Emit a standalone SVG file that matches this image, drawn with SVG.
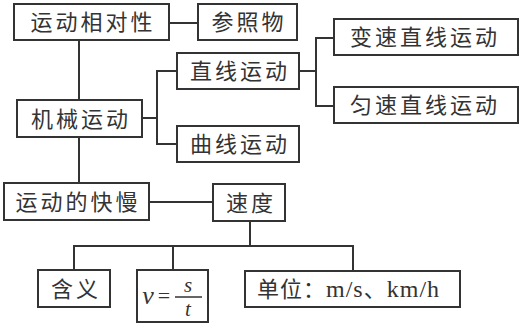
<svg xmlns="http://www.w3.org/2000/svg" width="522" height="327" viewBox="0 0 522 327">
<style>
rect{fill:#fff;stroke:#333;stroke-width:2}
.c path{fill:none;stroke:#333;stroke-width:2}
text{font-family:"Noto Sans CJK SC","Noto Sans",sans-serif;font-size:22px;fill:#333;letter-spacing:3px;text-anchor:middle}
.m{font-family:"Liberation Serif","Noto Sans CJK SC",serif;letter-spacing:0;font-style:italic}
.l{font-family:"Liberation Serif",serif;font-size:24px}
</style>
<rect x="0" y="0" width="522" height="327" style="stroke:none"/>
<g class="c">
<path d="M169 23H198"/>
<path d="M79 40V100"/>
<path d="M142 118H157M177 71H157V144H177"/>
<path d="M299 71H316M334 38H316V106H334"/>
<path d="M79 137V183"/>
<path d="M149 202H213"/>
<path d="M250 221V246M74 270V246H353V271M173 246V270"/>
</g>
<g id="n1"><rect x="14" y="4" width="155" height="36"/><text x="93" y="30">运动相对性</text></g>
<g id="n2"><rect x="198" y="4" width="99" height="36"/><text x="249" y="30">参照物</text></g>
<g id="n3"><rect x="17" y="100" width="125" height="37"/><text x="81" y="127">机械运动</text></g>
<g id="n4"><rect x="177" y="53" width="122" height="36"/><text x="240" y="79">直线运动</text></g>
<g id="n5"><rect x="177" y="126" width="122" height="36"/><text x="240" y="152">曲线运动</text></g>
<g id="n6"><rect x="334" y="19" width="184" height="36"/><text x="425" y="45">变速直线运动</text></g>
<g id="n7"><rect x="334" y="87" width="184" height="36"/><text x="425" y="113">匀速直线运动</text></g>
<g id="n8"><rect x="4" y="183" width="145" height="37"/><text x="78" y="210">运动的快慢</text></g>
<g id="n9"><rect x="213" y="184" width="72" height="37"/><text x="251" y="211">速度</text></g>
<g id="n10"><rect x="38" y="270" width="72" height="37"/><text x="76" y="297">含义</text></g>
<g id="n11"><rect x="137" y="270" width="71" height="52"/>
<text class="m" x="148" y="304" style="font-size:26px">v</text>
<text class="m" x="164" y="303" style="font-style:normal;font-size:22px">=</text>
<path d="M175 297H202" stroke="#333" stroke-width="1.5"/>
<text class="m" x="188" y="292" style="font-size:21px">s</text>
<text class="m" x="188" y="316" style="font-size:21px">t</text>
</g>
<g id="n12"><rect x="245" y="271" width="215" height="36"/><text x="257" y="297" style="letter-spacing:1px;text-anchor:start">单位：<tspan class="l">m/s</tspan>、<tspan class="l">km/h</tspan></text></g>
</svg>
